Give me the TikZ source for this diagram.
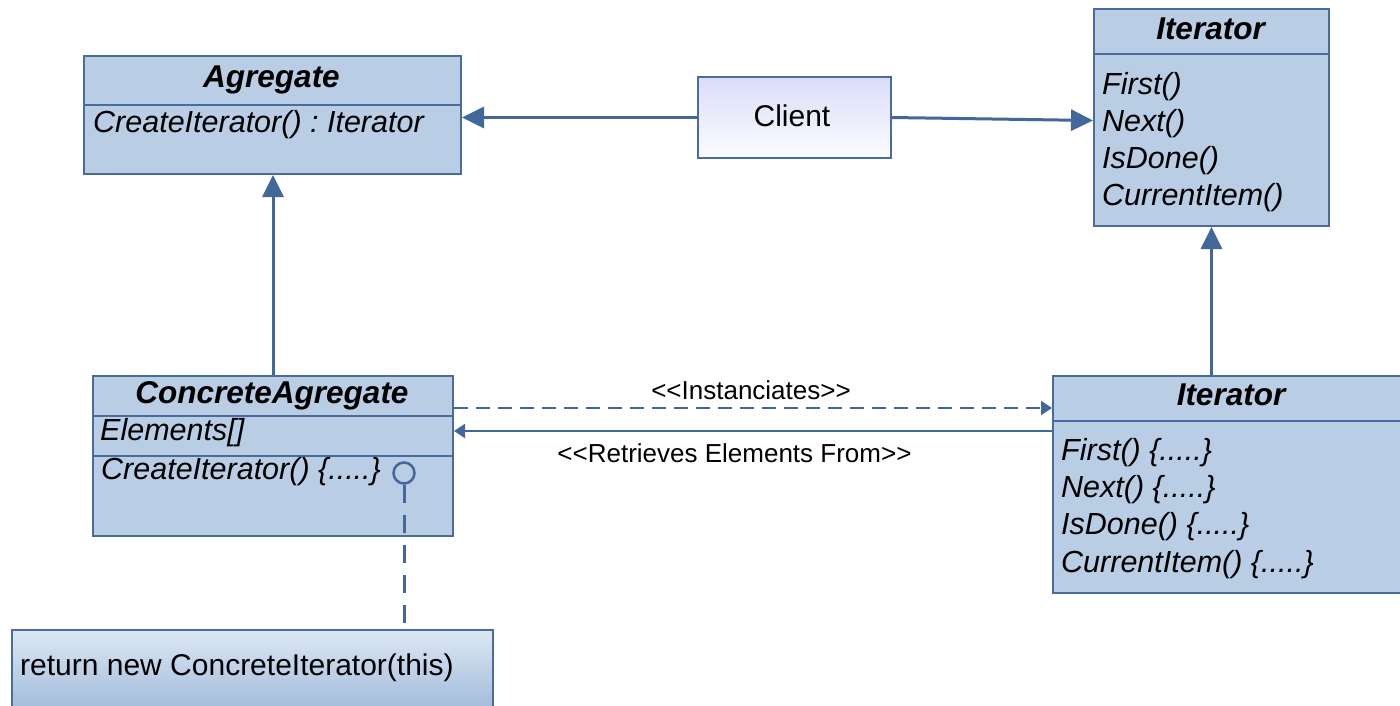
\documentclass[tikz,border=0pt]{standalone}
\usepackage{fontspec}
\setmainfont{Liberation Sans}
\usetikzlibrary{arrows.meta,calc}

\definecolor{umlfill}{RGB}{185,205,228}
\definecolor{umlline}{RGB}{74,108,156}
\definecolor{wire}{RGB}{66,103,154}
\definecolor{clienttop}{RGB}{218,221,248}
\definecolor{clientbot}{RGB}{252,252,255}
\definecolor{notetop}{RGB}{221,231,243}
\definecolor{notebot}{RGB}{150,179,215}

\frenchspacing
\begin{document}
\begin{tikzpicture}[x=1pt,y=-1pt,
  compartment/.style={rectangle, draw=umlline, line width=2pt, fill=umlfill,
    inner sep=0pt, anchor=north west},
  bigtext/.style={inner sep=0pt, text=black, font=\fontsize{30}{36}\selectfont},
  title/.style={bigtext, anchor=base, font=\fontsize{31.5}{36}\selectfont\bfseries\itshape},
  member/.style={bigtext, anchor=base west, font=\fontsize{30.5}{36}\selectfont\itshape},
  tag/.style={inner sep=0pt, text=black, anchor=base, font=\fontsize{26}{30}\selectfont},
  link/.style={draw=wire, line width=3pt},
  generalize/.style={link, -{Triangle[length=22pt,width=21pt]}},
  thinlink/.style={draw=wire, line width=2pt, -{Triangle[length=11pt,width=14pt]}},
]
\useasboundingbox (0,0) rectangle (1400,705);
\clip (0,0) rectangle (1400,705);

% Agregate (abstract aggregate)
\node[compartment, minimum width=377pt, minimum height=49pt] (agg-head) at (83,55) {};
\node[compartment, minimum width=377pt, minimum height=69pt] (agg-body) at (83,104) {};
\node[title] (agg-name) at (271.5,87) {Agregate};
\node[member] (agg-op) at (93,132) {CreateIterator() : Iterator};

% Client
\node[rectangle, draw=umlline, line width=2pt, top color=clienttop, bottom color=clientbot,
      minimum width=193pt, minimum height=81pt, inner sep=0pt, anchor=north west] (client) at (697,76) {};
\node[bigtext, anchor=base] (client-name) at (792,126) {Client};

% Iterator (abstract iterator)
\node[compartment, minimum width=235pt, minimum height=45pt] (it-head) at (1093,8) {};
\node[compartment, minimum width=235pt, minimum height=172pt] (it-body) at (1093,53) {};
\node[title] (it-name) at (1210.5,39) {Iterator};
\node[member] (it-op1) at (1102,94) {First()};
\node[member] (it-op2) at (1102,131) {Next()};
\node[member] (it-op3) at (1102,168) {IsDone()};
\node[member] (it-op4) at (1102,205) {CurrentItem()};

% ConcreteAgregate
\node[compartment, minimum width=360pt, minimum height=40pt] (cagg-head) at (92,375) {};
\node[compartment, minimum width=360pt, minimum height=40pt] (cagg-attr) at (92,415) {};
\node[compartment, minimum width=360pt, minimum height=80pt] (cagg-ops) at (92,455) {};
\node[title] (cagg-name) at (272,403) {ConcreteAgregate};
\node[member] (cagg-field) at (100,440) {Elements[]};
\node[member] (cagg-op) at (101,479) {CreateIterator() \{.....\}};

% Iterator (concrete iterator)
\node[compartment, minimum width=360pt, minimum height=45pt] (iti-head) at (1052,375) {};
\node[compartment, minimum width=360pt, minimum height=172pt] (iti-body) at (1052,420) {};
\node[title] (iti-name) at (1231,405) {Iterator};
\node[member] (iti-op1) at (1061,460) {First() \{.....\}};
\node[member] (iti-op2) at (1061,497) {Next() \{.....\}};
\node[member] (iti-op3) at (1061,534) {IsDone() \{.....\}};
\node[member] (iti-op4) at (1061,572) {CurrentItem() \{.....\}};

% Note attached to CreateIterator()
\node[rectangle, draw=umlline, line width=2pt, top color=notetop, bottom color=notebot,
      minimum width=481pt, minimum height=95pt, inner sep=0pt, anchor=north west] (note) at (11,629) {};
\node[bigtext, anchor=base west] (note-text) at (20,675) {return new ConcreteIterator(this)};
\node[circle, draw=wire, line width=2.5pt, minimum size=21pt, inner sep=0pt] (anchor-ring) at (404,473) {};

% Associations from the client
\draw[generalize] (client.west) -- (client.west -| agg-body.east);
\draw[generalize] (client.east) -- ([yshift=-3pt]it-body.west |- client.east);

% Inheritance
\draw[generalize] (cagg-head.north) -- (cagg-head.north |- agg-body.south);
\draw[generalize] (iti-head.north -| it-body.south) -- (it-body.south);

% Instantiation and element retrieval
\draw[thinlink, dash pattern=on 14pt off 8pt] ([yshift=-33pt]cagg-head.north east) -- ([yshift=-33pt]iti-head.north west);
\node[tag] (inst-label) at (751,399) {<{}<Instanciates>{}>};
\draw[thinlink] ([yshift=-56pt]iti-head.north west) -- ([yshift=-56pt]cagg-head.north east);
\node[tag] (retr-label) at (734.5,462) {<{}<Retrieves Elements From>{}>};

% Note connector
\draw[draw=wire, line width=3pt, dash pattern=on 18pt off 12pt] (anchor-ring.south) -- (anchor-ring.south |- note.north);
\end{tikzpicture}
\end{document}
